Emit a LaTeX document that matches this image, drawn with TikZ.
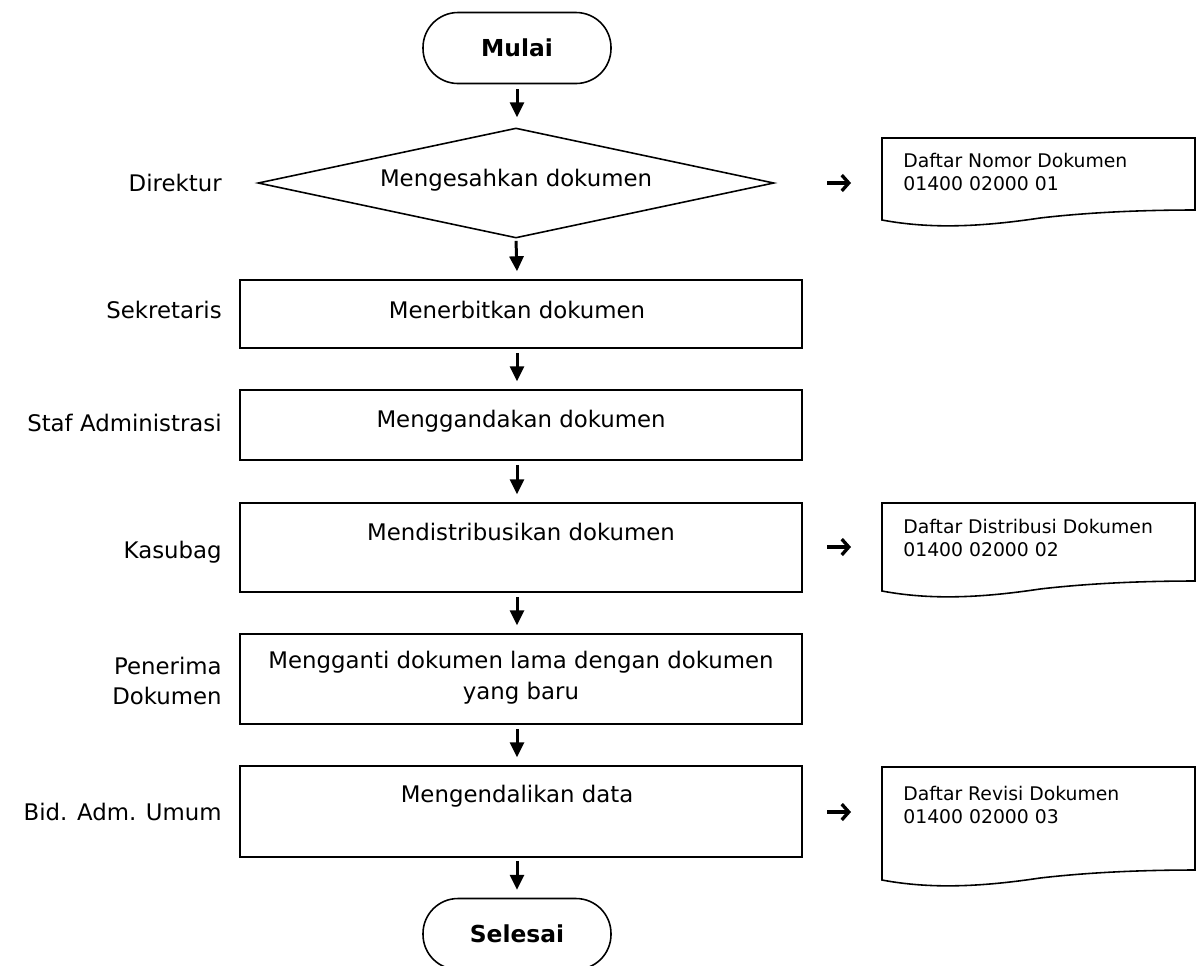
\documentclass[tikz,border=0pt]{standalone}
\usepackage{fontspec}
\setmainfont{DejaVu Sans}
\usetikzlibrary{shapes.geometric,arrows.meta,calc}
\def\pu{0.02cm}
\begin{document}
\begin{tikzpicture}[x=0.02cm,y=-0.02cm,
  every node/.style={inner sep=0pt},
  base/.style={font=\fontsize{13}{17.5}\selectfont},
  lane/.style={base,anchor=east,align=right},
  term/.style={draw,line width=0.9pt,rounded corners=35*\pu,minimum width=188*\pu,minimum height=71*\pu,font=\fontsize{13.3}{16}\bfseries},
  decide/.style={draw,diamond,line width=0.9pt,minimum width=516*\pu,minimum height=110*\pu},
  procbox/.style={draw,line width=0.9pt,minimum width=562*\pu},
  btext/.style={base,align=center},
  dtext/.style={font=\fontsize{10.7}{13}\selectfont,align=left,anchor=west},
  flow/.style={line width=1.7pt,-{Triangle[width=8pt,length=8.5pt]}},
  pointer/.style={line width=1.9pt,-{Straight Barb[length=4pt,width=9pt,line width=1.9pt]}},
  docline/.style={draw,line width=0.9pt},
  pics/paper/.style={code={
    \path[docline] (0,0) -- (0,#1) .. controls (48,#1+9) and (98,#1+7) .. (158,#1-2)
      .. controls (218,#1-9) and (278,#1-10) .. (313,#1-10) -- (313,0) -- cycle;
  }}
]
\useasboundingbox (0,0) rectangle (1196,965);

% terminals
\node[term] (start) at (517,48) {Mulai};
\node[term] (stop) at (517,934) {Selesai};

% decision and process boxes
\node[decide] (d1) at (516,183) {};
\node[btext] at (516,180) {Mengesahkan dokumen};

\node[procbox,minimum height=68*\pu] (b1) at (521,314) {};
\node[btext] at (517,310) {Menerbitkan dokumen};

\node[procbox,minimum height=70*\pu] (b2) at (521,425) {};
\node[btext] at (521,421) {Menggandakan dokumen};

\node[procbox,minimum height=89*\pu] (b3) at (521,547.5) {};
\node[btext] at (521,532) {Mendistribusikan dokumen};

\node[procbox,minimum height=90*\pu] (b4) at (521,679) {};
\node[btext] at (521,678) {Mengganti dokumen lama dengan dokumen\\yang baru};

\node[procbox,minimum height=91*\pu] (b5) at (521,811.5) {};
\node[btext] at (517,796) {Mengendalikan data};

% lane labels
\node[lane] at (222,183) {Direktur};
\node[lane] at (222,310) {Sekretaris};
\node[lane] at (222,423) {Staf Administrasi};
\node[lane] at (222,552) {Kasubag};
\node[lane] at (222,681) {Penerima\\Dokumen};
\node[lane] at (222,812) {Bid. Adm. Umum};

% flow arrows
\draw[flow] ($(start.south)+(0,5)$) -- ($(start.south |- d1.north)+(0,-10)$);
\draw[flow] ($(d1.south)+(0,2)$) -- ($(start.south |- b1.north)+(0,-8)$);
\draw[flow] ($(start.south |- b1.south)+(0,4)$) -- ($(start.south |- b2.north)+(0,-8)$);
\draw[flow] ($(start.south |- b2.south)+(0,4)$) -- ($(start.south |- b3.north)+(0,-8)$);
\draw[flow] ($(start.south |- b3.south)+(0,4)$) -- ($(start.south |- b4.north)+(0,-8)$);
\draw[flow] ($(start.south |- b4.south)+(0,4)$) -- ($(start.south |- b5.north)+(0,-8)$);
\draw[flow] ($(start.south |- b5.south)+(0,3)$) -- ($(start.south |- stop.north)+(0,-8)$);

% documents
\pic at (882,138) {paper=82};
\node[dtext] (t1) at (903,172) {Daftar Nomor Dokumen\\01400 02000 01};
\pic at (882,503) {paper=88};
\node[dtext] (t2) at (903,538) {Daftar Distribusi Dokumen\\01400 02000 02};
\pic at (882,767) {paper=113};
\node[dtext] (t3) at (903,805) {Daftar Revisi Dokumen\\01400 02000 03};

% pointers to documents
\coordinate (p1) at (827,183);
\coordinate (p2) at (827,547);
\coordinate (p3) at (827,812);
\draw[pointer] (p1) -- ++(24,0);
\draw[pointer] (p2) -- ++(24,0);
\draw[pointer] (p3) -- ++(24,0);
\end{tikzpicture}
\end{document}
